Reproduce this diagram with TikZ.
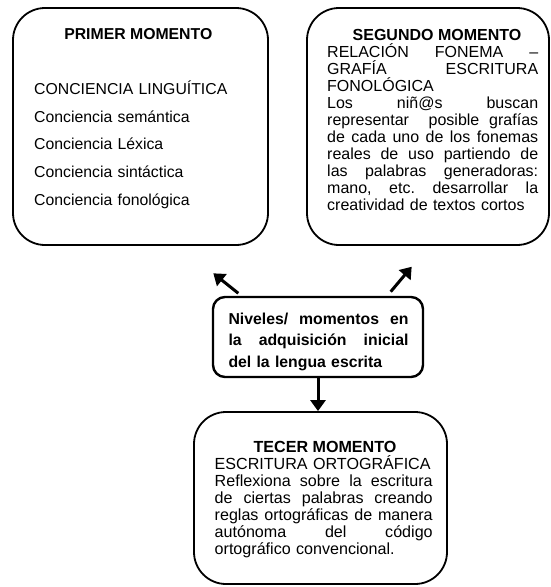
\documentclass[tikz,border=0pt]{standalone}
\usepackage{fontspec}
\setmainfont{Liberation Sans}
\usetikzlibrary{arrows.meta}
\newcommand{\jl}[2]{\makebox[#1][s]{\frenchspacing\spaceskip=0pt\xspaceskip=0pt\relax #2}}
\newcommand{\fsA}{\fontsize{16pt}{17pt}\selectfont\lineskiplimit=-50pt\relax}
\newcommand{\fsD}{\fontsize{16.1pt}{17pt}\selectfont\lineskiplimit=-50pt\relax}
\newcommand{\fsB}{\fontsize{15.8pt}{27.7pt}\selectfont\lineskiplimit=-50pt\relax}
\newcommand{\fsC}{\fontsize{15.8pt}{21.7pt}\selectfont\bfseries\lineskiplimit=-50pt\relax}
\begin{document}
\begin{tikzpicture}[x=1pt,y=-1pt,
  box/.style={draw, line width=1.8pt, rounded corners=32pt, inner sep=0pt},
  cbox/.style={draw, line width=2.4pt, rounded corners=12pt, inner sep=0pt},
  txt/.style={anchor=base west, inner sep=0pt, align=left},
  ttl/.style={anchor=base, inner sep=0pt},
  arr/.style={line width=3pt, -{Triangle[length=11pt,width=15pt]}}]
\useasboundingbox (0,0) rectangle (551,587);
% boxes
\node[box, minimum width=255pt, minimum height=237pt] (b1) at (140.5,126.5) {};
\node[box, minimum width=242pt, minimum height=237pt] (b2) at (428,126.5) {};
\node[box, minimum width=253pt, minimum height=172pt] (b3) at (320.5,498) {};
\node[cbox, minimum width=210pt, minimum height=80pt] (c) at (318,337) {};
% box 1
\node[ttl, font=\fsB\bfseries] (t1) at (138.3,39.5) {PRIMER MOMENTO};
\node[txt, font=\fsB, text width=210pt] (x1) at (34,94.3) {CONCIENCIA LINGUÍTICA\\
Conciencia semántica\\
Conciencia Léxica\\
Conciencia sintáctica\\
Conciencia fonológica};
% box 2
\node[ttl, font=\fsA\bfseries] (t2) at (437,40.5) {SEGUNDO MOMENTO};
\node[txt, font=\fsA, text width=211pt] (x2) at (327,57) {\jl{211pt}{RELACIÓN FONEMA –}\\
\jl{211pt}{GRAFÍA ESCRITURA}\\
FONOLÓGICA\\
\jl{211pt}{Los niñ@s buscan}\\
\jl{211pt}{representar \ posible grafías}\\
\jl{211pt}{de cada uno de los fonemas}\\
\jl{211pt}{reales de uso partiendo de}\\
\jl{211pt}{las palabras generadoras:}\\
\jl{211pt}{mano, etc. desarrollar la}\\
\mbox{creatividad de textos cortos}};
% center
\node[txt, font=\fsC, text width=180pt] (xc) at (228.3,324) {\jl{180pt}{Niveles/ momentos en}\\
\jl{180pt}{la adquisición inicial}\\
\mbox{del la lengua escrita}};
% box 3
\node[ttl, font=\fsD\bfseries] (t3) at (325,452) {TECER MOMENTO};
\node[txt, font=\fsD, text width=218pt] (x3) at (214.5,469) {\mbox{ESCRITURA ORTOGRÁFICA}\\
\jl{218pt}{Reflexiona sobre la escritura}\\
\jl{218pt}{de ciertas palabras creando}\\
\jl{218pt}{reglas ortográficas de manera}\\
\jl{218pt}{autónoma del código}\\
\mbox{ortográfico convencional.}};
% arrows
\coordinate (lt) at (238.3,293.3);
\coordinate (lh) at (213.3,273.3);
\coordinate (rt) at (390.7,291.7);
\coordinate (rh) at (411.7,266.7);
\draw[arr] (lt) -- (lh);
\draw[arr] (rt) -- (rh);
\draw[arr] (c.south) -- (c.south |- b3.north);
\end{tikzpicture}
\end{document}
